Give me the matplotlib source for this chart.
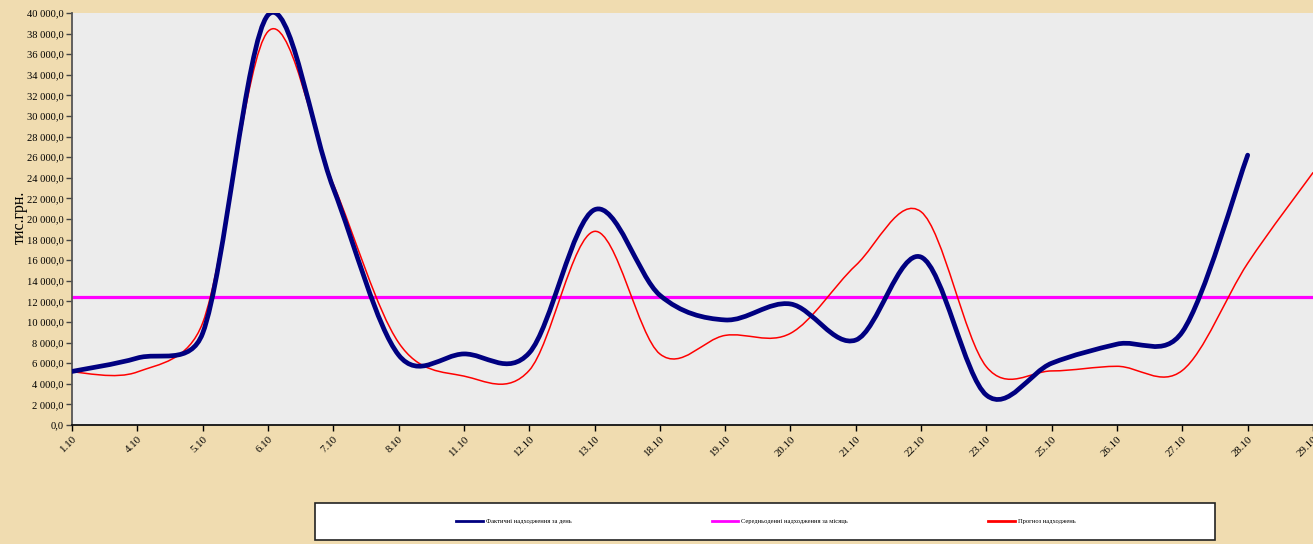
"""Щоденні надходження: фактичні, середньоденні та прогноз."""

import matplotlib
matplotlib.use("Agg")
import matplotlib.pyplot as plt
from matplotlib.path import Path
from matplotlib.patches import PathPatch, Rectangle
from matplotlib.lines import Line2D
from matplotlib.ticker import FuncFormatter, MultipleLocator
import numpy as np

plt.rcParams["font.family"] = ["Liberation Serif", "DejaVu Serif"]

dates = ["1.10", "4.10", "5.10", "6.10", "7.10", "8.10", "11.10", "12.10",
         "13.10", "18.10", "19.10", "20.10", "21.10", "22.10", "23.10",
         "25.10", "26.10", "27.10", "28.10", "29.10"]

actual = [5200, 6500, 8900, 39800, 23000, 6800, 6900, 7000, 20900, 12600,
          10200, 11750, 8250, 16300, 2900, 6000, 7850, 9050, 26200]

forecast = [5150, 5150, 9900, 38200, 23400, 8000, 4750, 5300, 18800, 6900,
            8700, 8900, 15500, 20700, 5650, 5250, 5700, 5300, 15700, 24500]

avg_daily = 12400

navy = "#000080"
red = "#ff0000"
magenta = "#ff00ff"

# масштаб осей у пікселях (для згладжування як в Excel)
PX_X = 65.83
PX_Y = 412 / 40000


def smooth_path(y):
    """Згладжена крива через кубічні сегменти Безьє, плечі обмежені
    половиною довжини сегмента (поведінка, близька до Excel)."""
    y = np.asarray(y, dtype=float)
    n = len(y)
    pts = np.column_stack([np.arange(n) * PX_X, y * PX_Y])
    verts = [pts[0]]
    codes = [Path.MOVETO]
    for i in range(n - 1):
        p0 = pts[max(i - 1, 0)]
        p1 = pts[i]
        p2 = pts[i + 1]
        p3 = pts[min(i + 2, n - 1)]
        half = np.linalg.norm(p2 - p1) / 2
        t1 = (p2 - p0) / 6.0
        t2 = (p3 - p1) / 6.0
        if np.linalg.norm(t1) > half:
            t1 *= half / np.linalg.norm(t1)
        if np.linalg.norm(t2) > half:
            t2 *= half / np.linalg.norm(t2)
        verts += [p1 + t1, p2 - t2, p2]
        codes += [Path.CURVE4] * 3
    verts = np.array(verts) / np.array([PX_X, PX_Y])
    return Path(verts, codes)


fig = plt.figure(figsize=(13.13, 5.44), dpi=100, facecolor="#f0dcb0")
ax = fig.add_axes([72 / 1313, 1 - 425 / 544, 1 - 72 / 1313, 412 / 544])
ax.set_facecolor("#ececec")

ax.axhline(avg_daily, color=magenta, lw=2.3, zorder=2)
ax.add_patch(PathPatch(smooth_path(forecast), facecolor="none", edgecolor=red,
                       lw=1.1, zorder=3, capstyle="round"))
ax.add_patch(PathPatch(smooth_path(actual), facecolor="none", edgecolor=navy,
                       lw=3.4, zorder=4, capstyle="round", joinstyle="round"))

ax.set_xlim(0, 1241 / PX_X)
ax.set_ylim(0, 40000)
ax.set_xticks(range(len(dates)))
ax.set_xticklabels(dates, rotation=45, ha="right", va="top",
                   rotation_mode="anchor", fontsize=7.8)
ax.yaxis.set_major_locator(MultipleLocator(2000))
ax.yaxis.set_major_formatter(
    FuncFormatter(lambda v, _: f"{v:,.1f}".replace(",", " ").replace(".", ",")))
ax.tick_params(axis="y", labelsize=7.6, length=4, width=1, direction="out",
               color="#444444", pad=2)
ax.tick_params(axis="x", length=4, width=1, direction="out", pad=3)
for s in ("top", "right"):
    ax.spines[s].set_visible(False)
ax.spines["left"].set_color("#555555")
ax.spines["left"].set_linewidth(1.3)
ax.spines["bottom"].set_color("#111111")
ax.spines["bottom"].set_linewidth(1.3)

fig.text(20 / 1313, 1 - 217 / 544, "тис.грн.", rotation=90,
         ha="center", va="center", fontsize=11.5)

# рамка легенди
fig.patches.append(Rectangle((315 / 1313, 1 - 540 / 544), 900 / 1313, 37 / 544,
                             transform=fig.transFigure, facecolor="white",
                             edgecolor="#222222", lw=1.2, zorder=1))
handles = [Line2D([], [], color=navy, lw=2),
           Line2D([], [], color=magenta, lw=2),
           Line2D([], [], color=red, lw=2)]
labels = ["Фактичні надходження за день",
          "Середньоденні надходження за місяць",
          "Прогноз надходжень"]
fig.legend(handles, labels, loc="center", bbox_to_anchor=(766 / 1313, 1 - 521 / 544),
           ncol=3, frameon=False, fontsize=4.7, handlelength=4.0,
           handletextpad=0.5, columnspacing=21.5)

fig.savefig("out.png", dpi=100, facecolor=fig.get_facecolor())
